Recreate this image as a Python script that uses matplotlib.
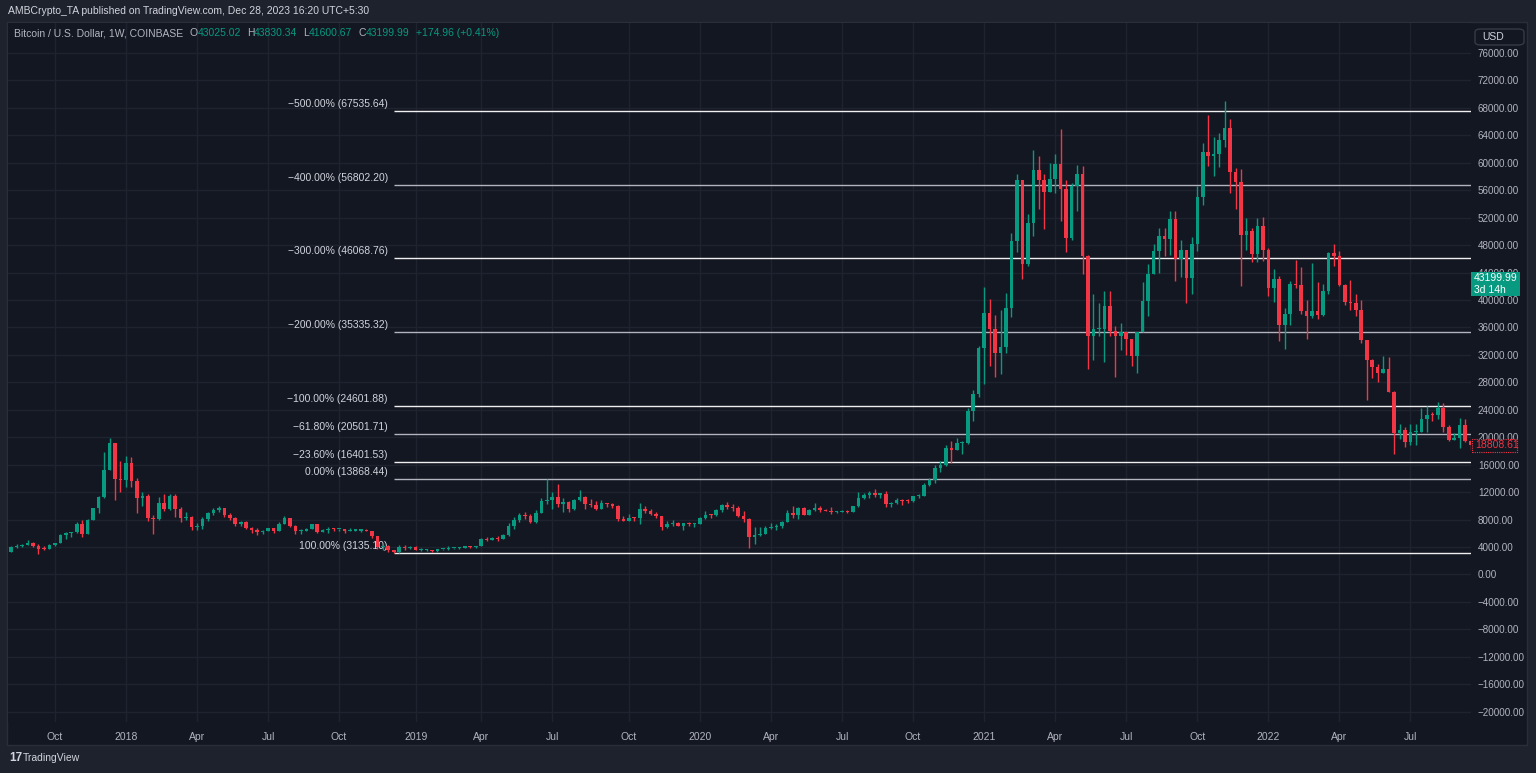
import numpy as np
import pandas as pd
import matplotlib
matplotlib.use("Agg")
import matplotlib.pyplot as plt
import matplotlib.dates as mdates
from matplotlib.patches import Rectangle, FancyBboxPatch

# BTC/USD semanal (Coinbase)
primera_apertura = 3260

cierre_2017 = [4060, 4100, 4350, 4600, 4200, 3700, 3650, 4350, 4600, 5700, 6000, 6150, 7400, 5950, 8000, 9700, 11250, 15200, 19100, 13900, 13800]
maximo_2017 = [4200, 4480, 4480, 4980, 4700, 4400, 4100, 4400, 4620, 5850, 6150, 6250, 7600, 7880, 8100, 9750, 11400, 17900, 19890, 19100, 16500]
minimo_2017 = [3250, 3850, 3950, 4300, 3950, 2980, 3550, 3650, 4150, 4580, 5100, 5400, 6050, 5500, 5850, 7900, 9000, 11200, 15200, 10800, 12000]

cierre_2018 = [16200, 13600, 11100, 11400, 8200, 8100, 10400, 9600, 11500, 9500, 8200, 8450, 6950, 7000, 8050, 8900, 9400, 9650,
               8700, 8250, 7350, 7700, 6780, 6500, 6150, 6400, 6750, 6350, 7400, 8200, 7000, 6300, 6400, 6700, 7300, 6250, 6500,
               6700, 6600, 6600, 6300, 6400, 6400, 6400, 6350, 5600, 4000, 4150, 3600, 3250, 4000, 3850, 4050]
maximo_2018 = [17300, 17100, 14100, 12000, 11700, 8600, 11300, 11800, 11700, 11700, 9900, 9100, 8500, 7500, 8400, 9050, 9750, 9950,
               9650, 8900, 8400, 7800, 7750, 6900, 6800, 6550, 6800, 6800, 7600, 8500, 8200, 7150, 6600, 6800, 7400, 7400, 6600,
               6850, 6800, 6700, 6700, 6750, 6550, 6550, 6600, 6400, 5650, 4400, 4300, 3600, 4250, 4250, 4100]
minimo_2018 = [12800, 12800, 9000, 10000, 7800, 5900, 7900, 9300, 9400, 8400, 7600, 7900, 6500, 6450, 6600, 7850, 8700, 9050,
               8350, 7950, 7050, 7050, 6650, 6100, 5800, 5850, 6300, 6080, 6350, 7400, 6950, 5900, 5880, 6300, 6650, 6100, 6200,
               6100, 6380, 6400, 6100, 6300, 6350, 6200, 6300, 5300, 3700, 3500, 3350, 3135, 3200, 3550, 3650]

cierre_2019 = [3550, 3550, 3550, 3450, 3650, 3650, 3800, 3800, 3920, 4000, 3980, 4100, 5100, 5080, 5300, 5200, 5780, 7000, 8000,
               8700, 8550, 7700, 8900, 10700, 10800, 11300, 10200, 10600, 9500, 10800, 11300, 10300, 10150, 9600, 10400, 10300,
               10050, 8100, 7800, 8300, 8200, 9500, 9300, 8800, 8500, 6900, 7400, 7500, 7100, 7500, 7300, 7400]
maximo_2019 = [4100, 3800, 3650, 3550, 3700, 3720, 4200, 3900, 3950, 4030, 4100, 4150, 5300, 5450, 5450, 5650, 5900, 7450, 8400,
               8950, 9100, 8800, 9350, 11200, 13868, 12000, 13200, 11100, 10650, 11000, 12300, 11450, 10950, 10650, 10900, 10450,
               10400, 10100, 8500, 8800, 8400, 10400, 9950, 9500, 9100, 8500, 7850, 7950, 7650, 7550, 7700, 7550]
minimo_2019 = [3500, 3450, 3450, 3350, 3350, 3550, 3600, 3700, 3700, 3800, 3900, 3900, 4100, 4950, 5000, 4950, 5150, 5600, 6600,
               7600, 8100, 7450, 7500, 8900, 10300, 9600, 9900, 9100, 9150, 9400, 10750, 9500, 9800, 9350, 9600, 9900,
               9700, 7750, 7750, 7800, 7850, 7300, 8950, 8700, 8300, 6550, 6800, 7050, 7000, 6450, 7100, 6850]

cierre_2020 = [8200, 8700, 8600, 9350, 10150, 9900, 9650, 8550, 8050, 5400, 5800, 5900, 6800, 6900, 7100, 7700, 8900, 8700, 9700,
               8700, 9450, 9650, 9450, 9300, 9050, 9050, 9300, 9150, 9950, 11100, 11650, 11900, 11650, 11700, 10250, 10350,
               10900, 10750, 10650, 11400, 11500, 13000, 13750, 15500, 15950, 18400, 18200, 19150, 19150, 23850, 26250, 33000]
maximo_2020 = [8450, 9200, 8800, 9600, 10200, 10500, 10250, 9950, 9200, 8200, 6900, 6950, 7000, 7450, 7300, 7800, 9450, 10050, 9900,
               9850, 9600, 10400, 9950, 9600, 9800, 9300, 9450, 9350, 9950, 12000, 11900, 12100, 12450, 11750, 12100, 10600,
               11100, 10950, 10950, 11450, 11700, 13350, 14050, 15950, 16500, 18800, 19400, 19900, 19400, 24300, 26900, 33300]
minimo_2020 = [7350, 8100, 8250, 8550, 9150, 9600, 9300, 8450, 7650, 3850, 4450, 5650, 5900, 6700, 6450, 6800, 7600, 8200, 8100,
               8650, 8650, 9300, 9100, 9200, 8850, 8900, 9050, 9000, 9100, 9900, 10950, 11200, 11350, 11100, 9900, 9900,
               10300, 10150, 10400, 10550, 11200, 11400, 12950, 13300, 14900, 15800, 16200, 18150, 17600, 19000, 22400, 25900]

cierre_2021 = [38150, 35800, 32300, 33100, 38900, 48600, 57500, 45200, 51200, 59000, 57500, 55800, 57600, 59800, 56200, 49100,
               56600, 58300, 46400, 34700, 35700, 35800, 39100, 35500, 34700, 35300, 34250, 31800, 35400, 39900, 43800, 47100,
               49300, 48900, 51800, 46000, 47300, 43200, 48200, 55000, 61500, 61000, 61300, 63300, 65000, 58600, 57200, 49400,
               50100, 46700, 50800, 47300]
maximo_2021 = [41950, 40100, 37850, 38500, 40950, 49700, 58400, 57500, 52600, 61800, 61000, 58400, 60000, 61300, 64900, 57500,
               57000, 59600, 59500, 46600, 40900, 39500, 41300, 41300, 36200, 36600, 35100, 34100, 35400, 42600, 45300, 48100,
               50500, 50500, 52900, 52900, 48800, 47300, 49200, 56600, 62900, 67000, 63700, 64300, 69000, 66300, 59300, 59100,
               51900, 50500, 51900, 52100]
minimo_2021 = [27700, 30400, 28800, 29200, 32300, 37500, 47000, 43000, 44950, 49300, 53300, 50400, 55800, 55600, 51500, 47000,
               48800, 53000, 43800, 30000, 31200, 34800, 31000, 34800, 28800, 32700, 32000, 30400, 29300, 35400, 37700, 43800,
               43900, 46400, 46600, 42800, 43400, 39600, 40800, 47100, 53900, 59500, 58000, 59400, 62300, 55600, 53300, 42000,
               47300, 45500, 45600, 45700]

cierre_2022 = [41800, 43100, 36300, 37900, 42400, 42200, 38400, 37700, 38400, 37800, 41300, 46800, 46400, 42200, 39700, 39500,
               38500, 34100, 31300, 30300, 29400, 29900, 26600, 20600, 21000, 19300, 20800, 20800, 22600, 23300, 23200, 24300,
               21500, 19550, 19950, 21800, 19400, 18808.61]
maximo_2022 = [47600, 44500, 43500, 38900, 42700, 45800, 44800, 40000, 45400, 42600, 42300, 47000, 48200, 47100, 42400, 42900,
               40800, 40000, 34200, 31400, 30600, 31900, 31700, 26800, 21900, 21500, 22000, 22000, 24300, 24600, 23700, 25200,
               25000, 21800, 20600, 22800, 22700, 19700]
minimo_2022 = [40600, 39700, 34000, 32900, 36300, 41700, 38000, 34300, 37400, 37200, 37600, 40900, 45000, 42100, 39200, 38600,
               37600, 33700, 25400, 28700, 28000, 29300, 26600, 17600, 19700, 18600, 18800, 18900, 20800, 20700, 22400, 22700,
               20800, 19500, 19600, 18500, 19300, 18100]

# Fibonacci
fib_niveles = [-5, -4, -3, -2, -1, -0.618, -0.236, 0, 1]
fib_precios = [67535.64, 56802.20, 46068.76, 35335.32, 24601.88, 20501.71, 16401.53, 13868.44, 3135.10]
fib_inicio = "2018-12-10"

# textos
titulo = "AMBCrypto_TA published on TradingView.com, Dec 28, 2023 16:20 UTC+5:30"
simbolo = "Bitcoin / U.S. Dollar, 1W, COINBASE"
leyenda_ohlc = [("O", "43025.02"), ("H", "43830.34"), ("L", "41600.67"), ("C", "43199.99")]
leyenda_cambio = "+174.96 (+0.41%)"
precio_actual = 43199.99
cuenta_atras = "3d 14h"
ultimo_cierre = 18808.61

# ------------------------------------------------------------------
BG = "#131722"
OUTER = "#1e222d"
GRID = "#1f2330"
TXT = "#b2b5be"
VERDE = "#089981"
ROJO = "#f23645"

plt.rcParams["font.family"] = ["Liberation Sans", "DejaVu Sans"]

W, H = 1536, 773
fig = plt.figure(figsize=(W / 100, H / 100), dpi=100, facecolor=OUTER)


def caja(x0, y0, x1, y1):
    return [x0 / W, 1 - y1 / H, (x1 - x0) / W, (y1 - y0) / H]


fig.patches.append(Rectangle((7 / W, 1 - 745 / H), (1527 - 7) / W, (745 - 22) / H, transform=fig.transFigure,
                             facecolor=BG, edgecolor="#2a2e39", lw=1, zorder=-1))

ax = fig.add_axes(caja(8, 23, 1471, 722))
ax.set_facecolor(BG)
for s in ax.spines.values():
    s.set_visible(False)

cierres = np.array(cierre_2017 + cierre_2018 + cierre_2019 + cierre_2020 + cierre_2021 + cierre_2022, dtype=float)
maximos = np.array(maximo_2017 + maximo_2018 + maximo_2019 + maximo_2020 + maximo_2021 + maximo_2022, dtype=float)
minimos = np.array(minimo_2017 + minimo_2018 + minimo_2019 + minimo_2020 + minimo_2021 + minimo_2022, dtype=float)
aperturas = np.concatenate([[primera_apertura], cierres[:-1]])
maximos = np.maximum(maximos, np.maximum(aperturas, cierres))
minimos = np.minimum(minimos, np.minimum(aperturas, cierres))

fechas = pd.date_range("2017-08-07", periods=len(cierres), freq="W-MON")
xs = mdates.date2num(fechas.to_pydatetime())

sube = cierres >= aperturas
colores = np.where(sube, VERDE, ROJO)
base = np.minimum(aperturas, cierres)
alto = np.maximum(np.abs(cierres - aperturas), 160)

ax.vlines(xs, minimos, maximos, colors=colores, linewidth=1.0, zorder=3)
ax.bar(xs, alto, bottom=base, width=4.6, color=colores, linewidth=0, zorder=4)

x_izq = mdates.date2num(pd.Timestamp("2017-08-03"))
x_der = mdates.date2num(pd.Timestamp("2022-09-19 12:00"))
ax.set_xlim(x_izq, x_der)
ax.set_ylim(-21492, 80358)

# ejes
yt = np.arange(-20000, 76001, 4000)
ax.set_yticks(yt)
ax.set_yticklabels([f"{v:.2f}".replace("-", "\u2212") for v in yt])
ax.yaxis.tick_right()
ax.tick_params(axis="y", length=0, pad=5, labelcolor=TXT, labelsize=7.1)

meses = {1: None, 4: "Apr", 7: "Jul", 10: "Oct"}
xt, xl = [], []
for anio in range(2017, 2023):
    for m, nombre in meses.items():
        d = pd.Timestamp(anio, m, 1)
        d = d + pd.Timedelta(days=(7 - d.weekday()) % 7)
        n = mdates.date2num(d)
        if x_izq < n < x_der:
            xt.append(n)
            xl.append(str(anio) if nombre is None else nombre)
ax.set_xticks(xt)
ax.set_xticklabels(xl)
ax.tick_params(axis="x", length=0, pad=7, labelcolor=TXT, labelsize=7.5)
ax.grid(True, color=GRID, linewidth=1)
ax.set_axisbelow(True)

# fibonacci
x_fib = mdates.date2num(pd.Timestamp(fib_inicio))
for i, (nivel, precio) in enumerate(zip(fib_niveles, fib_precios)):
    color = "#f0f0f0" if i % 2 == 0 else "#b2b5be"
    ax.hlines(precio, x_fib, x_der + 30, colors=color, linewidth=1.0, zorder=2)
    etiqueta = f"{nivel * 100:.2f}%".replace("-", "\u2212") + f" ({precio:.2f})"
    ax.annotate(etiqueta, xy=(x_fib, precio), xytext=(-6, 2), textcoords="offset pixels",
                ha="right", va="bottom", color="#d1d4dc", fontsize=7.5, zorder=1)

# cabecera
fig.text(8 / W, 1 - 11 / H, titulo, color="#d1d4dc", fontsize=7.5, va="center")
rend = fig.canvas.get_renderer()
items = [(simbolo, TXT, 6)]
for letra, val in leyenda_ohlc:
    items += [(letra, TXT, 0), (val, VERDE, 6)]
items.append((leyenda_cambio, VERDE, 0))
x = 14
for texto, color, hueco in items:
    t = fig.text(x / W, 1 - 33 / H, texto, color=color, fontsize=7.5, va="center", ha="left")
    x += t.get_window_extent(rend).width + hueco

# boton USD
fig.patches.append(FancyBboxPatch((1475 / W, 1 - 45 / H), 49 / W, 16 / H, boxstyle="round,pad=0,rounding_size=0.004",
                                  transform=fig.transFigure, facecolor=BG, edgecolor="#363a45", lw=1, zorder=5))
fig.text(1482 / W, 1 - 36.5 / H, "USD", color="#d1d4dc", fontsize=7.5, va="center", zorder=6)


def fila_precio(p):
    return H - ax.transData.transform((x_izq, p))[1]


# etiqueta precio actual (tapa la etiqueta 44000.00 como en el original)
py = fila_precio(precio_actual)
fig.patches.append(Rectangle((1471 / W, 1 - (py + 18) / H), 49 / W, 24 / H, transform=fig.transFigure,
                             facecolor=VERDE, edgecolor="none", zorder=5))
fig.text(1474 / W, 1 - py / H, f"{precio_actual:.2f}", color="white", fontsize=7.5, va="center", zorder=6)
fig.text(1474 / W, 1 - (py + 12) / H, cuenta_atras, color="white", fontsize=7.5, va="center", zorder=6)

# etiqueta ultimo cierre
py = fila_precio(ultimo_cierre)
fig.patches.append(Rectangle((1472 / W, 1 - (py + 6.5) / H), 45 / W, 13 / H, transform=fig.transFigure,
                             facecolor=BG, edgecolor=ROJO, lw=0.8, linestyle=(0, (1, 1)), zorder=5))
fig.text(1475 / W, 1 - py / H, f"{ultimo_cierre:.2f}", color=ROJO, fontsize=7.5, va="center", zorder=6)

# pie
fig.text(9 / W, 1 - 758 / H, "17", color="#d1d4dc", fontsize=8.5, fontweight="bold", va="center")
fig.text(23 / W, 1 - 758 / H, "TradingView", color="#d1d4dc", fontsize=7.5, va="center")

fig.savefig("out.png", dpi=100, facecolor=OUTER)
